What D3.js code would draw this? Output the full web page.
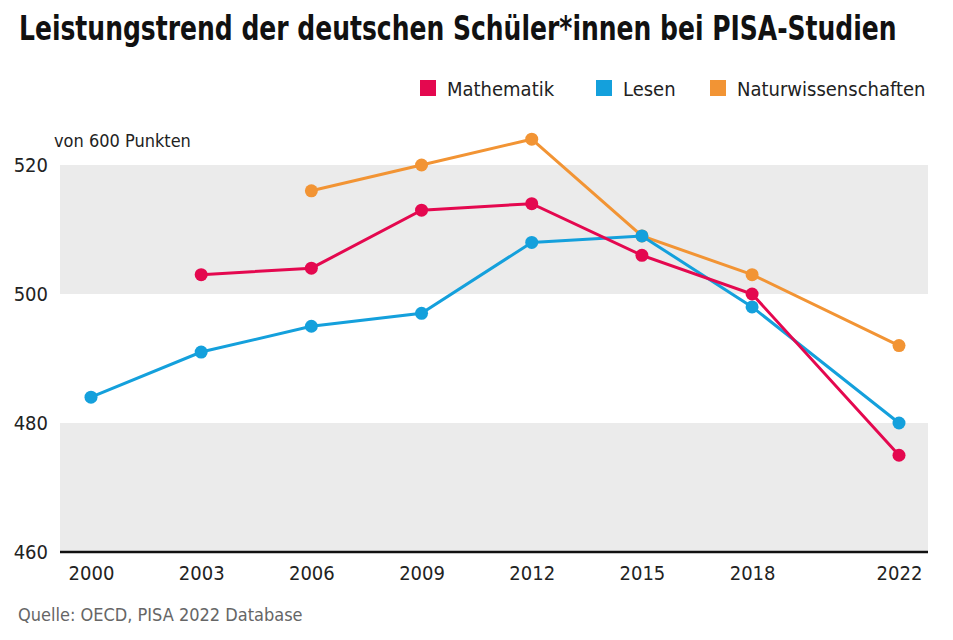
<!DOCTYPE html>
<html>
<head>
<meta charset="utf-8">
<script src="https://cdn.jsdelivr.net/npm/d3@7"></script>
<style>
  body { margin: 0; background: #fff; }
  text { font-family: "Liberation Sans Narrow", "DejaVu Sans Condensed", sans-serif; }
</style>
</head>
<body>
<svg id="chart" width="953" height="640"></svg>
<script>
// PISA results Germany
const years = [2000, 2003, 2006, 2009, 2012, 2015, 2018, 2022];
const mathematik = [null, 503, 504, 513, 514, 506, 500, 475];
const lesen = [484, 491, 495, 497, 508, 509, 498, 480];
const naturwissenschaften = [null, null, 516, 520, 524, 509, 503, 492];
const seriesNames = ["Mathematik", "Lesen", "Naturwissenschaften"];
const seriesColors = ["#e4084f", "#14a0dc", "#f29434"];
const yTicks = [460, 480, 500, 520];
const bands = [[460, 480], [500, 520]];

const svg = d3.select("#chart");

const plot = { left: 60, right: 928, top: 165, bottom: 552 };

const x = d3.scaleLinear().domain([2000, 2022]).range([91, 899]);
const y = d3.scaleLinear().domain([460, 520]).range([plot.bottom, plot.top]);

// title - the narrow font isn't installed, so scale it down to the reference width
const titleWidth = 878;
const titleG = svg.append("g");
const title = titleG.append("text")
  .text("Leistungstrend der deutschen Schüler*innen bei PISA-Studien")
  .attr("x", 0)
  .attr("y", 0)
  .attr("font-size", 34)
  .attr("font-weight", 700)
  .attr("fill", "#111");
const naturalWidth = title.node().getComputedTextLength();
titleG.attr("transform", `translate(19,40) scale(${Math.min(1, titleWidth / naturalWidth)},1)`);

// legend
const legendX = [420, 596, 710];
seriesNames.forEach((name, i) => {
  svg.append("rect")
    .attr("x", legendX[i])
    .attr("y", 80)
    .attr("width", 16)
    .attr("height", 16)
    .attr("fill", seriesColors[i]);
  svg.append("text")
    .text(name)
    .attr("x", legendX[i] + 27)
    .attr("y", 96)
    .attr("font-size", 20)
    .attr("fill", "#222");
});

// gray bands
svg.selectAll("rect.band")
  .data(bands)
  .enter()
  .append("rect")
  .attr("class", "band")
  .attr("x", plot.left)
  .attr("width", plot.right - plot.left)
  .attr("y", d => y(d[1]))
  .attr("height", d => y(d[0]) - y(d[1]))
  .attr("fill", "#ebebeb");

// unit label
svg.append("text")
  .text("von 600 Punkten")
  .attr("x", 54)
  .attr("y", 147)
  .attr("font-size", 18)
  .attr("fill", "#222");

// y tick labels
svg.selectAll("text.ytick")
  .data(yTicks)
  .enter()
  .append("text")
  .attr("class", "ytick")
  .text(d => d)
  .attr("x", 48)
  .attr("y", d => y(d))
  .attr("dy", "0.35em")
  .attr("text-anchor", "end")
  .attr("font-size", 20)
  .attr("fill", "#222");

// x axis
const xAxis = svg.append("g")
  .attr("transform", `translate(0,${plot.bottom})`)
  .call(d3.axisBottom(x).tickValues(years).tickFormat(d3.format("d")).tickSize(0).tickPadding(14));
xAxis.select(".domain").remove();
xAxis.selectAll("text")
  .attr("font-size", 20)
  .attr("fill", "#222")
  .attr("font-family", "Liberation Sans Narrow, DejaVu Sans Condensed, sans-serif");

// baseline
svg.append("line")
  .attr("x1", plot.left)
  .attr("x2", plot.right)
  .attr("y1", y(460))
  .attr("y2", y(460))
  .attr("stroke", "#111")
  .attr("stroke-width", 2.5);

// series lines, drawn back to front
const allSeries = [mathematik, lesen, naturwissenschaften];
const drawOrder = [2, 1, 0];

const line = d3.line()
  .defined(d => d.v != null)
  .x(d => x(d.year))
  .y(d => y(d.v));

drawOrder.forEach(i => {
  const pts = years.map((year, j) => ({ year: year, v: allSeries[i][j] }));
  const g = svg.append("g");
  g.append("path")
    .datum(pts)
    .attr("d", line)
    .attr("fill", "none")
    .attr("stroke", seriesColors[i])
    .attr("stroke-width", 3);
  g.selectAll("circle")
    .data(pts.filter(d => d.v != null))
    .enter()
    .append("circle")
    .attr("cx", d => x(d.year))
    .attr("cy", d => y(d.v))
    .attr("r", 6.5)
    .attr("fill", seriesColors[i]);
});

// source
svg.append("text")
  .text("Quelle: OECD, PISA 2022 Database")
  .attr("x", 18)
  .attr("y", 621)
  .attr("font-size", 18)
  .attr("fill", "#666");
</script>
</body>
</html>
